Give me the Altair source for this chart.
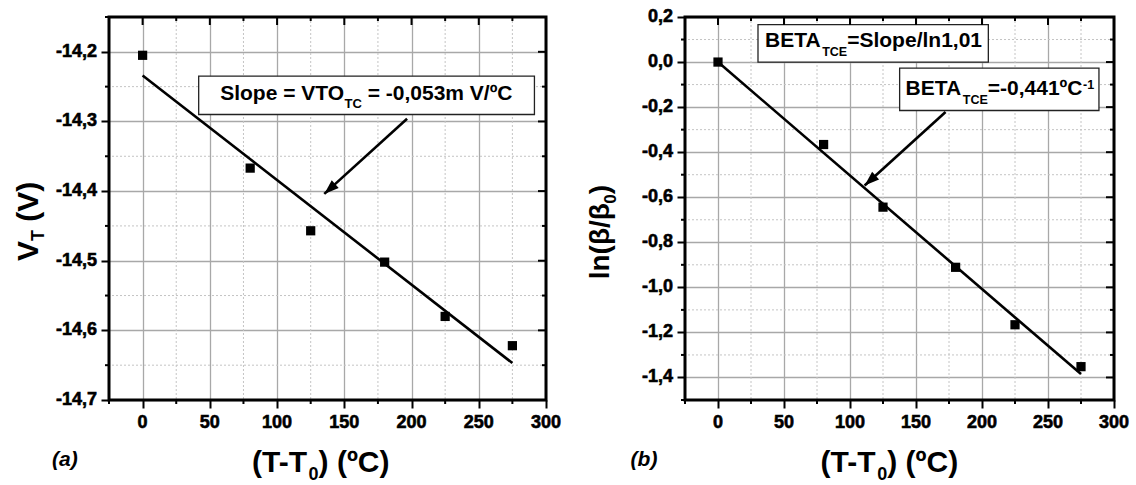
import altair as alt
import pandas as pd

FONT = "Liberation Sans"

# ---------------- data ----------------
T = [0, 80, 125, 180, 225, 275]
VT = [-14.205, -14.367, -14.457, -14.502, -14.580, -14.622]
LNB = [0.0, -0.366, -0.644, -0.911, -1.166, -1.352]

FIT_A_T = [0, 275]
FIT_A_V = [-14.234, -14.647]
FIT_B_T = [0, 275]
FIT_B_V = [0.0, -1.385]

X_MAJOR = [0, 50, 100, 150, 200, 250, 300]
X_MINOR = [-25, 25, 75, 125, 175, 225, 275]
YA_MAJOR = [-14.7, -14.6, -14.5, -14.4, -14.3, -14.2]
YA_MINOR = [-14.65, -14.55, -14.45, -14.35, -14.25, -14.15]
YB_MAJOR = [-1.4, -1.2, -1.0, -0.8, -0.6, -0.4, -0.2, 0.0, 0.2]
YB_MINOR = [-1.5, -1.3, -1.1, -0.9, -0.7, -0.5, -0.3, -0.1, 0.1]

# annotation boxes: x, x2, y, y2 (data units)
BOX_A = [41.7, 291.4, -14.235, -14.290]
BOX_B1 = [30.3, 204.8, 0.166, 0.0]
BOX_B2 = [137.6, 288.6, -0.027, -0.215]
# arrows: from (x, y) to tip (x2, y2)
ARROW_A = [196.7, -14.296, 135.1, -14.404]
ARROW_B = [172.4, -0.222, 111.1, -0.548]
# annotation text anchors (data units) and pieces (text, dx, dy, size)
NOTE_A = (57.7, -14.2697, [("Slope = VTO", 0, 0, 21), ("TC", 124.3, 8, 13),
                           ("= -0,053m V/ºC", 147.5, 0, 21)])
NOTE_B1 = (35.6, 0.0667, [("BETA", 0, 0, 21), ("TCE", 57.2, 9, 12.5),
                          ("=Slope/ln1,01", 82.2, 0, 21)])
NOTE_B2 = (142.1, -0.1449, [("BETA", 0, 0, 21), ("TCE", 57.2, 9, 12.5),
                            ("=-0,441ºC", 82.2, 0, 21), ("-1", 177.5, -6, 12.5)])

XTITLE = [("(T-T", 0, 0, 30), ("0", 56.6, 8, 18), (") (ºC)", 66.6, 0, 30)]
YTITLE_A = [("V", 0, 0, 30), ("T", 20, 6, 18), ("(V)", 39.3, 0, 30)]
YTITLE_B = [("ln(β/β", 0, 0, 28), ("0", 75.6, 7, 17), (")", 85.1, 0, 28)]

ARROW_HEAD = "M0,0L-0.6,1.7L0.6,1.7Z"
Y_LABEL = "(datum.y < 0 ? '-' : '') + replace(format(abs(datum.y), '.1f'), '.', ',')"


def one():
    return pd.DataFrame({"k": [0]})


def make_panel(W, H, xdom, ydom, ys, fit_x, fit_y, ymaj, ymin, boxes, notes,
               arrows, xt_pos, yt_pieces, yt_pos, tag, tag_pos):
    sx = alt.Scale(domain=xdom, nice=False, zero=False)
    sy = alt.Scale(domain=ydom, nice=False, zero=False)
    ax_common = dict(title=None, grid=True, gridColor="#a8a8a8", gridWidth=1.3,
                     tickSize=8, tickWidth=2, tickColor="black", domain=False,
                     labels=False)
    x_axis = alt.Axis(values=X_MAJOR, **ax_common)
    y_axis = alt.Axis(values=ymaj, **ax_common)

    def X(f="x"):
        return alt.X(f"{f}:Q", scale=sx, axis=x_axis)

    def Y(f="y"):
        return alt.Y(f"{f}:Q", scale=sy, axis=y_axis)

    layers = []
    # minor grid
    layers.append(alt.Chart(pd.DataFrame({"x": X_MINOR})).mark_rule(
        color="#c4c4c4", strokeDash=[2, 2], strokeWidth=1).encode(x=X()))
    layers.append(alt.Chart(pd.DataFrame({"y": ymin})).mark_rule(
        color="#c4c4c4", strokeDash=[2, 2], strokeWidth=1).encode(y=Y()))

    # fit line
    layers.append(alt.Chart(pd.DataFrame({"x": fit_x, "y": fit_y})).mark_line(
        color="black", strokeWidth=2.6).encode(x=X(), y=Y()))

    # points
    layers.append(alt.Chart(pd.DataFrame({"x": T, "y": ys})).mark_square(
        size=85, color="black", opacity=1).encode(x=X(), y=Y()))

    # boxes
    for b in boxes:
        layers.append(alt.Chart(pd.DataFrame({"x": [b[0]], "x2": [b[1]], "y": [b[2]], "y2": [b[3]]}))
                      .mark_rect(fill="white", stroke="#222222", strokeWidth=1.3)
                      .encode(x=X(), x2="x2", y=Y(), y2="y2"))
    # note texts
    for ax_, ay_, pieces in notes:
        for s, dx, dy, fs in pieces:
            layers.append(alt.Chart(pd.DataFrame({"x": [ax_], "y": [ay_]})).mark_text(
                align="left", baseline="alphabetic", font=FONT, fontWeight="bold",
                fontSize=fs, dx=dx, dy=dy, color="black").encode(
                x=X(), y=Y(), text=alt.value(s)))
    # arrows
    for a in arrows:
        layers.append(alt.Chart(pd.DataFrame({"x": [a[0]], "y": [a[1]], "x2": [a[2]], "y2": [a[3]]}))
                      .mark_rule(color="black", strokeWidth=2.6)
                      .encode(x=X(), y=Y(), x2="x2", y2="y2"))
        layers.append(alt.Chart(pd.DataFrame({"x": [a[2]], "y": [a[3]]}))
                      .mark_point(shape=ARROW_HEAD, filled=True, color="black", opacity=1,
                                  size=300, angle=228, strokeWidth=0)
                      .encode(x=X(), y=Y()))

    # minor outward ticks bottom / left
    layers.append(alt.Chart(pd.DataFrame({"x": X_MINOR})).mark_rule(
        color="black", strokeWidth=2).encode(x=X(), y=alt.value(H), y2=alt.value(H + 4)))
    layers.append(alt.Chart(pd.DataFrame({"y": ymin})).mark_rule(
        color="black", strokeWidth=2).encode(y=Y(), x=alt.value(-4), x2=alt.value(0)))
    # mirrored inward ticks top / right
    layers.append(alt.Chart(pd.DataFrame({"x": X_MAJOR})).mark_rule(
        color="black", strokeWidth=2).encode(x=X(), y=alt.value(0), y2=alt.value(8)))
    layers.append(alt.Chart(pd.DataFrame({"x": X_MINOR})).mark_rule(
        color="black", strokeWidth=2).encode(x=X(), y=alt.value(0), y2=alt.value(4)))
    layers.append(alt.Chart(pd.DataFrame({"y": ymaj})).mark_rule(
        color="black", strokeWidth=2).encode(y=Y(), x=alt.value(W - 8), x2=alt.value(W)))
    layers.append(alt.Chart(pd.DataFrame({"y": ymin})).mark_rule(
        color="black", strokeWidth=2).encode(y=Y(), x=alt.value(W - 4), x2=alt.value(W)))

    # tick labels (bold, slightly heavier)
    layers.append(alt.Chart(pd.DataFrame({"x": X_MAJOR})).mark_text(
        align="center", baseline="top", font=FONT, fontWeight="bold", fontSize=18,
        color="black", stroke="black", strokeWidth=0.6).encode(
        x=X(), y=alt.value(H + 14), text=alt.Text("x:Q", format="d")))
    layers.append(alt.Chart(pd.DataFrame({"y": ymaj})).transform_calculate(
        lab=Y_LABEL).mark_text(
        align="right", baseline="middle", font=FONT, fontWeight="bold", fontSize=18,
        color="black", stroke="black", strokeWidth=0.6).encode(
        y=Y(), x=alt.value(-12), text="lab:N"))

    # frame
    layers.append(alt.Chart(one()).mark_rect(filled=False, stroke="black", strokeWidth=3)
                  .encode(x=alt.value(0), x2=alt.value(W), y=alt.value(0), y2=alt.value(H)))

    # axis titles
    for s, dx, dy, fs in XTITLE:
        layers.append(alt.Chart(one()).mark_text(
            align="left", baseline="alphabetic", font=FONT, fontWeight="bold",
            fontSize=fs, dx=dx, dy=dy, color="black").encode(
            x=alt.value(xt_pos[0]), y=alt.value(xt_pos[1]), text=alt.value(s)))
    for s, dx, dy, fs in yt_pieces:
        layers.append(alt.Chart(one()).mark_text(
            align="left", baseline="alphabetic", font=FONT, fontWeight="bold",
            fontSize=fs, dx=dx, dy=dy, angle=270, color="black").encode(
            x=alt.value(yt_pos[0]), y=alt.value(yt_pos[1]), text=alt.value(s)))
    layers.append(alt.Chart(one()).mark_text(
        align="left", baseline="alphabetic", font=FONT, fontWeight="bold",
        fontStyle="italic", fontSize=21, color="black").encode(
        x=alt.value(tag_pos[0]), y=alt.value(tag_pos[1]), text=alt.value(tag)))

    return alt.layer(*layers).properties(width=W, height=H)


left = make_panel(437, 383, [-25, 300], [-14.7, -14.15], VT, FIT_A_T, FIT_A_V,
                  YA_MAJOR, YA_MINOR, [BOX_A], [NOTE_A], [ARROW_A],
                  (143, 455), YTITLE_A, (-71.5, 244), "(a)", (-57, 449))
right = make_panel(429, 383, [-25, 300], [-1.5, 0.2], LNB, FIT_B_T, FIT_B_V,
                   YB_MAJOR, YB_MINOR, [BOX_B1, BOX_B2], [NOTE_B1, NOTE_B2], [ARROW_B],
                   (135.6, 455), YTITLE_B, (-75.7, 262.3), "(b)", (-54.4, 449))

chart = alt.hconcat(left, right, spacing=139, bounds="flush").configure_view(
    stroke=None).properties(
    padding={"left": 13, "top": 8, "right": 0, "bottom": 0}, background="white")

chart.save("out.html", embed_options={"renderer": "svg", "actions": False})
